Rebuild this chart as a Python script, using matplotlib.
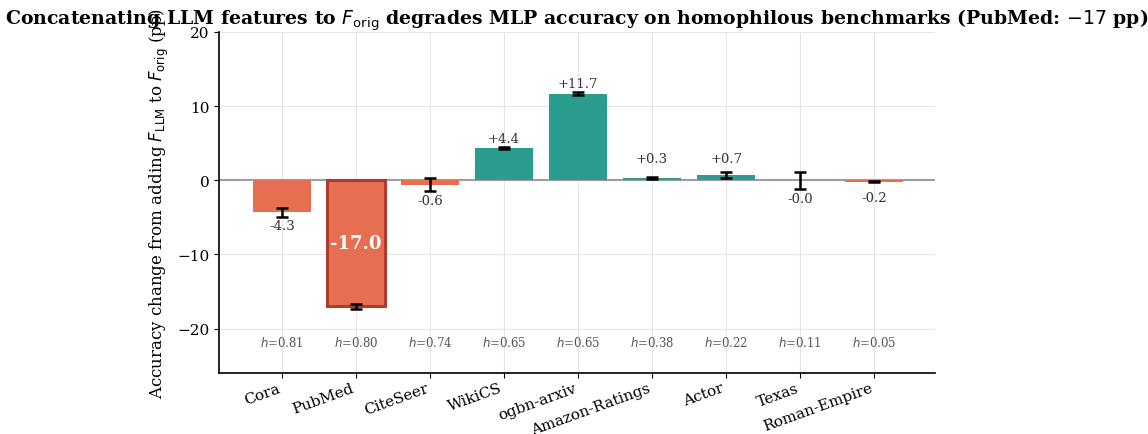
import matplotlib
matplotlib.use("Agg")
import matplotlib.pyplot as plt
import numpy as np

datasets = ["Cora", "PubMed", "CiteSeer", "WikiCS", "ogbn-arxiv",
            "Amazon-Ratings", "Actor", "Texas", "Roman-Empire"]
delta = [-4.3, -17.0, -0.6, 4.4, 11.7, 0.3, 0.7, -0.03, -0.2]
err = [0.6, 0.3, 0.9, 0.12, 0.2, 0.08, 0.35, 1.2, 0.05]
homophily = [0.81, 0.80, 0.74, 0.65, 0.65, 0.38, 0.22, 0.11, 0.05]

plt.rcParams['font.family'] = 'DejaVu Serif'
plt.rcParams['mathtext.fontset'] = 'dejavusans'

RED = "#E76F51"
TEAL = "#2A9D8F"

fig = plt.figure(figsize=(11.48, 4.35), dpi=100)
ax = fig.add_axes([219/1148, 1-374/435, (935-219)/1148, (374-33)/435])

x = np.arange(len(datasets))
colors = [RED if v < 0 else TEAL for v in delta]
bars = ax.bar(x, delta, width=0.78, color=colors, zorder=3)
# highlight PubMed
i_pm = datasets.index("PubMed")
bars[i_pm].set_edgecolor("#B03A2E")
bars[i_pm].set_linewidth(2.2)
ax.errorbar(x, delta, yerr=err, fmt="none", ecolor="black", elinewidth=1.8,
            capsize=4, capthick=1.8, zorder=4)
ax.axhline(0, color="#9e9e9e", lw=1.5, zorder=2)

for xi, v, e in zip(x, delta, err):
    if xi == i_pm:
        ax.text(xi, v / 2, f"{v:.1f}", ha="center", va="center", color="white",
                fontsize=13, fontweight="bold", zorder=5)
        continue
    if v >= 0:
        ax.text(xi, max(v + e + 0.3, 2.0), f"+{v:.1f}", ha="center", va="bottom",
                fontsize=9.5, color="#333333", zorder=5)
    else:
        ax.text(xi, min(v - e - 0.3, -1.5), f"{v:.1f}", ha="center", va="top",
                fontsize=9.5, color="#333333", zorder=5)

for xi, h in zip(x, homophily):
    ax.text(xi, -21.8, f"$h$={h:.2f}", ha="center", va="center",
            fontsize=8.5, color="#555555")

ax.set_xticks(x)
ax.set_xticklabels(datasets, rotation=20, ha="right", fontsize=11)
ax.tick_params(axis="x", pad=2)
ax.tick_params(axis="y", labelsize=11)
ax.set_xlim(-0.85, 8.82)
ax.set_ylim(-26, 20)
ax.set_yticks([-20, -10, 0, 10, 20])
ax.grid(True, color="#e6e6e6", lw=0.8, zorder=0)
ax.set_axisbelow(True)
for s in ["top", "right"]:
    ax.spines[s].set_visible(False)
ax.spines["left"].set_linewidth(1.2)
ax.spines["bottom"].set_linewidth(1.2)

ax.set_ylabel(r"Accuracy change from adding $F_{\mathrm{LLM}}$ to $F_{\mathrm{orig}}$ (pp)",
              fontsize=12)
ax.set_title(r"Concatenating LLM features to $F_{\mathrm{orig}}$ degrades MLP accuracy on homophilous benchmarks (PubMed: $-17$ pp)",
             fontsize=13.6, fontweight="bold", pad=4)

fig.savefig("out.png", dpi=100)
